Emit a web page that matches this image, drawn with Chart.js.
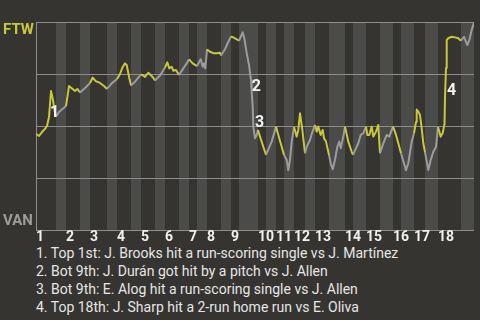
<!DOCTYPE html>
<html>
<head>
<meta charset="utf-8">
<script src="https://cdn.jsdelivr.net/npm/chart.js@4.4.1/dist/chart.umd.min.js"></script>
<style>
  html, body { margin: 0; padding: 0; background: #353430; width: 480px; height: 320px; overflow: hidden; }
  #wrap { position: relative; width: 480px; height: 244px; }
  #notes { font-family: Roboto, sans-serif; font-size: 14px; line-height: 18px; color: #e6e6e6; padding-left: 36px; white-space: nowrap; }
</style>
</head>
<body>
<div id="wrap"><canvas id="chart" width="480" height="244"></canvas></div>
<div id="notes"></div>
<script>
// play index where each half inning starts (top 1st, bottom 1st, top 2nd, ...)
const halfStarts = [0, 10, 15, 22, 27, 35.5, 40.5, 47.5, 52.5, 59.5, 64.5, 71.5, 76.5, 80.5, 85.5, 92.5, 97.5, 101.5,
    111, 115, 120, 124, 129, 134.5, 139.5, 146.5, 154.5, 158.5, 165, 172, 178.5, 182.5, 189, 194.5, 201, 212.5];
const gameEnd = 219;
const innings = ['1', '2', '3', '4', '5', '6', '7', '8', '9', '10', '11', '12', '13', '14', '15', '16', '17', '18'];

// win probability for FTW after each play
const play = [
    0, 1.5, 3, 4.5, 5.5, 6.5, 7.5, 8.5, 9.25, 10,
    11.5, 13.5, 15,
    16.5, 18, 19.5, 20.75, 22,
    24.5, 27,
    28.35, 29.85, 32, 34, 35.5,
    37.85, 40.5,
    42, 43.35, 44.5, 45.35, 46.65, 47.5,
    49.5, 52.5,
    53.5, 54.5, 56.15, 57.35, 58.5, 59.5,
    62, 64.5,
    65.65, 66.65, 67.85, 68.65, 70, 71.5,
    73.65, 75.35, 76.5,
    78.35, 80.5,
    81.65, 82.35, 83.35, 84, 84.65, 85.5,
    87, 88.65, 90.35, 92, 92.5,
    94.5, 96.15, 97.5,
    98.65, 100.35, 101.5,
    103.35, 104.15, 105.35, 106.5, 107.5, 107.85, 108.35, 108.65, 109.5, 110.35, 111,
    112, 113.65, 115,
    117.85, 120,
    121.15, 122.85, 124,
    125.35, 126.15, 127, 127.85, 129,
    130.35, 131.15, 132, 132.85, 133.65, 134.5,
    135.5, 137, 138, 139.5,
    140.35, 141.15, 142.35, 143.35, 144, 145, 146.5,
    147.35, 148.35, 149.5, 150.65, 151.65, 152.35, 153.65, 154.5,
    156.15, 157.85, 158.5,
    161.15, 162.35, 163.65, 165,
    165.65, 166.65, 167.85, 168.65, 170, 171.15, 172,
    173.65, 175.35, 176.65, 177.85, 178.5,
    180, 181.15, 182.5,
    184, 185, 186.15, 187.85, 189,
    190, 190.35, 191.15, 192, 192.85, 193.65, 194.5,
    196.15, 197.35, 198.65, 200, 201,
    202.35, 203.35, 204.25, 204.5, 205, 205.35, 206.15, 207.85, 209.5, 211.15, 212.5,
    214, 215, 215.65, 216.65, 217.85, 219
];
const ftwWinPct = [
    46.2, 45.2, 47.1, 48.6, 50, 54.3, 66.8, 62.5, 57.7, 54.6,
    56.7, 58.4, 59.6,
    69.2, 68.0, 66.8, 67.8, 66.1,
    68.3, 70.7,
    73.3, 71.6, 70.7, 69.2, 67.8,
    70.5, 72.6,
    75.0, 78.4, 80.1, 79.3, 73.1, 69.5,
    71.3, 74.8,
    74.3, 73.6, 75.6, 74.5, 73.3, 71.9,
    74.3, 78.1,
    80.6, 77.7, 78.5, 76.6, 76.9, 74.5,
    77.7, 80.1, 82.0,
    80.1, 78.8,
    80.9, 82.1, 78.5, 80.1, 77.7, 86.8,
    85.7, 85.0, 85.0, 85.2, 83.9,
    86.9, 90.5, 93.0,
    92.6, 91.7, 91.0,
    95.0, 92.2, 85.0, 79.3, 72.1, 66.5, 59.3, 49.7, 44.1, 45.7, 48.1,
    44.9, 40.0, 36.1,
    42.5, 49.7,
    45.7, 40.0, 36.1,
    33.7, 28.8, 33.7, 42.5, 49.5,
    44.9, 48.1, 56.1, 50.5, 44.1, 36.9,
    40.4, 43.3, 46.6, 50.5,
    47.3, 49.7, 45.7, 48.1, 44.1, 42.5, 36.1,
    32.1, 29.2, 33.7, 40.0, 42.5, 39.3, 44.9, 49.7,
    42.5, 37.6, 36.1,
    41.7, 45.7, 46.5, 49.7,
    45.7, 45.7, 49.7, 44.9, 47.3, 50.5, 36.9,
    41.7, 45.7, 44.9, 48.1, 49.7,
    45.7, 41.7, 36.9,
    32.1, 28.8, 32.1, 42.5, 46.5,
    51.9, 57.9, 56.9, 55.3, 48.9, 41.7, 37.5,
    28.8, 33.7, 37.6, 40.0, 49.5,
    44.9, 46.6, 51.0, 63.9, 77.9, 91.3, 92.2, 92.9, 92.6, 92.2, 91.0,
    92.9, 90.5, 88.9, 91.3, 96.2, 99.7
];

// numbered key plays: where the number sits, and the caption text
const keyPlayNums = ['1', '2', '3', '4'];
const keyPlayAt = [9.25, 110.2, 111.75, 207.75];
const keyPlayPct = [54.3, 67.0, 49.5, 64.9];
const keyPlayNotes = [
    'Top 1st: J. Brooks hit a run-scoring single vs J. Martínez',
    'Bot 9th: J. Durán got hit by a pitch vs J. Allen',
    'Bot 9th: E. Alog hit a run-scoring single vs J. Allen',
    'Top 18th: J. Sharp hit a 2-run home run vs E. Oliva'
];

const YELLOW = '#c8c83c';
const GREY = '#9c9c9c';

document.getElementById('notes').innerHTML =
    keyPlayNotes.map((t, i) => `<div>${keyPlayNums[i]}. ${t}</div>`).join('');

function halfIndex(x) {
    let k = 0;
    for (let i = 0; i < halfStarts.length; i++) {
        if (halfStarts[i] <= x) k = i;
    }
    return k;
}

// shade the bottom halves of each inning
const inningStripes = {
    id: 'inningStripes',
    beforeDraw(chart) {
        const { ctx, chartArea, scales: { x } } = chart;
        ctx.save();
        ctx.fillStyle = '#4b4b49';
        for (let k = 1; k < halfStarts.length; k += 2) {
            const left = x.getPixelForValue(halfStarts[k]);
            const end = k + 1 < halfStarts.length ? halfStarts[k + 1] : gameEnd;
            const right = x.getPixelForValue(end);
            ctx.fillRect(left, chartArea.top, right - left, chartArea.bottom - chartArea.top);
        }
        ctx.restore();
    }
};

// team names at top and bottom, numbers on key plays
const labels = {
    id: 'labels',
    afterDatasetsDraw(chart) {
        const { ctx, chartArea, scales: { x, y } } = chart;
        ctx.save();
        ctx.font = 'bold 15px Roboto';
        ctx.textAlign = 'left';
        ctx.textBaseline = 'alphabetic';
        ctx.fillStyle = YELLOW;
        ctx.fillText('FTW', 3, chartArea.top + 11.5);
        ctx.fillStyle = GREY;
        ctx.fillText('VAN', 3, chartArea.bottom - 5);

        ctx.font = 'bold 16px Roboto';
        ctx.textAlign = 'center';
        ctx.fillStyle = '#f2f2f2';
        keyPlayNums.forEach((n, i) => {
            ctx.fillText(n, x.getPixelForValue(keyPlayAt[i]), y.getPixelForValue(keyPlayPct[i]));
        });
        ctx.restore();
    }
};

const ctx = document.getElementById('chart').getContext('2d');
new Chart(ctx, {
    type: 'line',
    data: {
        datasets: [{
            data: play.map((p, i) => ({ x: p, y: ftwWinPct[i] })),
            borderWidth: 2,
            pointRadius: 0,
            tension: 0,
            borderJoinStyle: 'round',
            borderColor: YELLOW,
            segment: {
                // yellow while FTW bats (top halves), grey for VAN
                borderColor: c => halfIndex((c.p0.parsed.x + c.p1.parsed.x) / 2) % 2 === 0 ? YELLOW : GREY
            }
        }]
    },
    options: {
        responsive: false,
        animation: false,
        devicePixelRatio: 1,
        layout: { padding: { left: 36, top: 22, right: 6, bottom: 0 } },
        plugins: { legend: { display: false }, tooltip: { enabled: false } },
        scales: {
            x: {
                type: 'linear',
                min: 0,
                max: gameEnd,
                grid: { display: false, drawTicks: false },
                border: { display: false },
                afterBuildTicks: scale => {
                    scale.ticks = innings.map((_, i) => ({ value: halfStarts[i * 2] }));
                },
                ticks: {
                    autoSkip: false,
                    maxRotation: 0,
                    minRotation: 0,
                    align: 'start',
                    padding: 0,
                    color: '#f0f0f0',
                    font: { family: 'Roboto', size: 14, weight: 'bold', lineHeight: 1 },
                    callback: (v, i) => innings[i]
                }
            },
            y: {
                min: 0,
                max: 100,
                grid: { color: '#8e8e8e', drawTicks: false },
                border: { display: true, color: '#8e8e8e' },
                ticks: { display: false, stepSize: 25 }
            }
        }
    },
    plugins: [inningStripes, labels]
});
</script>
</body>
</html>
